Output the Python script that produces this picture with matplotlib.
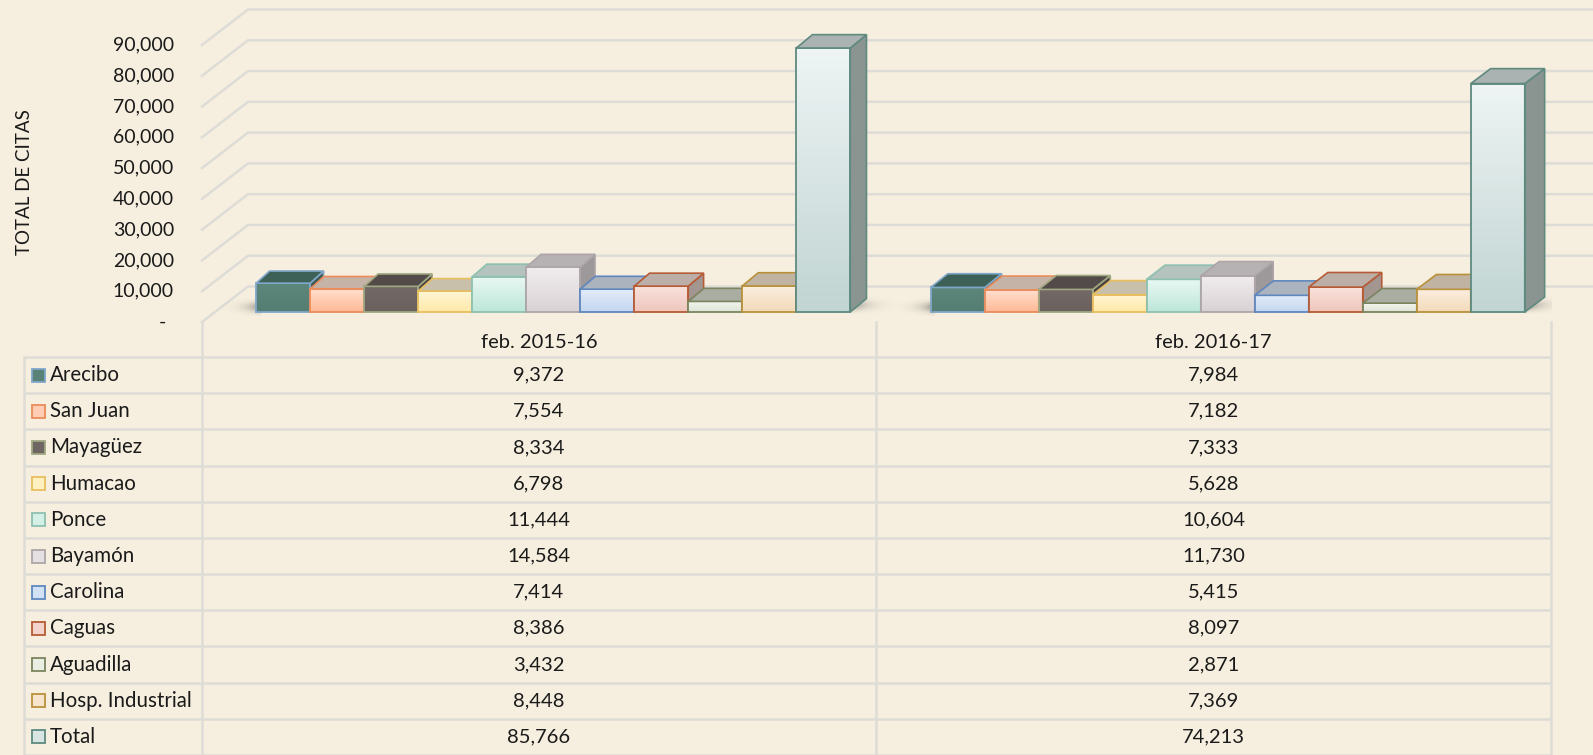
import numpy as np
import matplotlib
matplotlib.use('Agg')
import matplotlib.pyplot as plt
from matplotlib.patches import Polygon, Rectangle
from matplotlib.colors import LinearSegmentedColormap, to_rgb

# data
periods = ['feb. 2015-16', 'feb. 2016-17']
regions = ['Arecibo', 'San Juan', 'Mayagüez', 'Humacao', 'Ponce', 'Bayamón',
           'Carolina', 'Caguas', 'Aguadilla', 'Hosp. Industrial', 'Total']
citas_1516 = [9372, 7554, 8334, 6798, 11444, 14584, 7414, 8386, 3432, 8448, 85766]
citas_1617 = [7984, 7182, 7333, 5628, 10604, 11730, 5415, 8097, 2871, 7369, 74213]
y_ticks = list(range(0, 90001, 10000))

# (gradient top, gradient bottom, edge, top face, side face)
styles = [
    ('#5E877C', '#557D72', '#7FA7C9', '#3E6157', '#3A5A52'),
    ('#FFE0CF', '#FFB996', '#EB8C5A', '#C5B3A7', '#B09E92'),
    ('#736966', '#6A605D', '#A0A882', '#534B49', '#4A4341'),
    ('#FFF6D6', '#FFE9A8', '#E8BE5E', '#C9C0AB', '#B2A996'),
    ('#E9F8F3', '#BDE6D9', '#8EC0B0', '#B4C3BD', '#9EADA7'),
    ('#F1EDEE', '#D9D2D5', '#ADA5A8', '#B6B1B2', '#9D9899'),
    ('#E3ECF8', '#C3D6F0', '#5F87BE', '#ABB3BE', '#98A0AA'),
    ('#F8E2DC', '#EFC6BC', '#B65C36', '#BBAFA8', '#A39590'),
    ('#F3F5EE', '#DEE4D6', '#7B845E', '#A9ADA2', '#959A8F'),
    ('#FBEFE0', '#F3D9B9', '#B8913A', '#C0B3A2', '#A99C8B'),
    ('#EEF4F4', '#C1D5D2', '#5E8A80', '#AAB3B1', '#8A9592'),
]

bg = '#F6EFDF'
grid_c = '#DEDCD7'
text_c = '#1A1A1A'
plt.rcParams['font.family'] = ['Lato', 'DejaVu Sans']

W, H = 1593, 755
x_left, x_right, y_floor = 202, 1551, 322
px_x = (x_right - x_left) / 2.0


def dx(p):
    return p / px_x


def dy(p):
    return p * 90000 / 277.0


def shadow(ax, xa, xb, ya, yb, to_right, z):
    u = np.linspace(0, 1, 80)
    v = np.linspace(-1, 1, 30)
    uu, vv = np.meshgrid(u, v)
    d = uu if to_right else 1 - uu
    alpha = 0.6 * np.exp(-3.0 * d) * np.exp(-3 * vv ** 2) * np.clip(1 - d, 0, 1)
    img = np.zeros((30, 80, 4))
    img[..., :3] = 0.25
    img[..., 3] = alpha
    ax.imshow(img, extent=[xa, xb, ya, yb], origin='lower', aspect='auto',
              zorder=z, interpolation='bilinear')


fig = plt.figure(figsize=(W / 100, H / 100), dpi=100, facecolor=bg)

# table underneath
tab = fig.add_axes([0, 0, 1, 1], zorder=0)
tab.set_xlim(0, W)
tab.set_ylim(H, 0)
tab.axis('off')

row_top = 357
row_h = (H - row_top) / len(regions)
col_x = [x_left, 876, x_right]
for k in range(len(regions) + 1):
    yy = row_top + k * row_h
    tab.plot([24, x_right], [yy, yy], color=grid_c, lw=1.8, solid_capstyle='butt')
tab.plot([24, 24], [row_top, H], color=grid_c, lw=1.8)
for xc in col_x:
    tab.plot([xc, xc], [y_floor, H], color=grid_c, lw=1.8)

for c, per in enumerate(periods):
    xc = (col_x[c] + col_x[c + 1]) / 2
    tab.text(xc, 343, per, ha='center', va='center', fontsize=14.5, color=text_c)

for r, name in enumerate(regions):
    yc = row_top + (r + 0.5) * row_h
    top, bot, edge = styles[r][:3]
    mid = tuple((np.array(to_rgb(top)) + np.array(to_rgb(bot))) / 2)
    tab.add_patch(Rectangle((32, yc - 6.5), 13, 13, fc=mid, ec=edge, lw=1.3))
    tab.text(50, yc, name, ha='left', va='center', fontsize=14.8, color=text_c)
    for c, vals in enumerate([citas_1516, citas_1617]):
        xc = (col_x[c] + col_x[c + 1]) / 2
        tab.text(xc, yc, '{:,}'.format(vals[r]), ha='center', va='center',
                 fontsize=14.5, color=text_c)

# 3d-looking bar chart
ax = fig.add_axes([x_left / W, (H - y_floor) / H, (x_right - x_left) / W, y_floor / H],
                  zorder=1)
ax.set_facecolor('none')
ax.axis('off')

for v in y_ticks:
    ax.plot([-0.5, -0.5 + dx(46), 1.5 + dx(200)], [v, v + dy(35.5), v + dy(35.5)],
            color=grid_c, lw=1.8, clip_on=False, zorder=1)
    if v:
        ax.text(-0.5 - dx(28), v, '{:,}'.format(v), ha='right', va='center',
                fontsize=14, color=text_c, clip_on=False)
    else:
        ax.text(-0.5 - dx(39.5), v, '-', ha='center', va='center',
                fontsize=14, color=text_c, clip_on=False)

bar_w = dx(54)
front_shift = dx(14)
base = dy(10)
grad = np.linspace(0, 1, 64).reshape(-1, 1)
z = 3
for i, vals in enumerate([citas_1516, citas_1617]):
    first_x = i - 5.5 * bar_w + front_shift
    last_x = first_x + len(vals) * bar_w
    shadow(ax, first_x - dx(40), first_x + dx(4), base - dy(4), base + dy(14), False, 2)
    shadow(ax, last_x, last_x + dx(55), base - dy(2), base + dy(16), True, 2)
    for j, v in enumerate(vals):
        top, bot, edge, topc, side = styles[j]
        x0 = first_x + j * bar_w
        x1 = x0 + bar_w
        xpx = x_left + (x1 + 0.5) * px_x
        t = (xpx - 255) / 1290.0
        ddx, ddy = dx(13 + 7 * t), dy(12 + 3 * t)
        y0, y1 = base, base + v
        cmap = LinearSegmentedColormap.from_list('g', [bot, top])
        ax.imshow(grad, extent=[x0, x1, y0, y1], origin='lower', aspect='auto',
                  cmap=cmap, zorder=z)
        ax.add_patch(Polygon([[x1, y0], [x1 + ddx, y0 + ddy], [x1 + ddx, y1 + ddy], [x1, y1]],
                             fc=side, ec=edge, lw=1.2, zorder=z + 0.05))
        ax.add_patch(Rectangle((x0, y0), bar_w, v, fill=False, ec=edge, lw=1.3,
                               zorder=z + 0.1))
        ax.add_patch(Polygon([[x0, y1], [x1, y1], [x1 + ddx, y1 + ddy], [x0 + ddx, y1 + ddy]],
                             fc=topc, ec=edge, lw=1.2, zorder=z + 0.1))
        z += 1

ax.set_xlim(-0.5, 1.5)
ax.set_ylim(0, dy(y_floor))

fig.text(25 / W, 1 - 182 / H, 'TOTAL DE CITAS', rotation=90, ha='center', va='center',
         fontsize=13.5, color=text_c)

fig.savefig('out.png', dpi=100, facecolor=bg)
